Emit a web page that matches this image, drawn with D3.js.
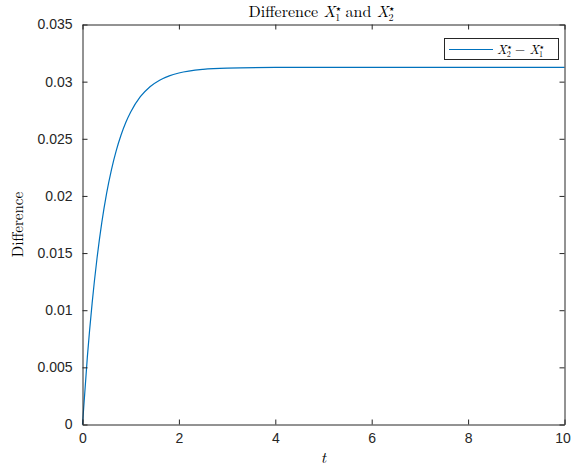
<!DOCTYPE html>
<html><head><meta charset="utf-8">
<script src="https://cdn.jsdelivr.net/npm/d3@7"></script>
<style>
body{margin:0;background:#fff;}
svg{display:block;}
.tick text{font-family:"Liberation Sans",Arial,sans-serif;font-size:14px;fill:#262626;}
</style></head>
<body>
<svg id="c" width="571" height="468"></svg>
<script>
// data
const tValues = [0, 0.1, 0.2, 0.3, 0.4, 0.5, 0.6, 0.7, 0.8, 0.9, 1.0, 1.2, 1.4, 1.6, 1.8, 2.0, 2.5, 3.0, 4.0, 5.0, 6.0, 7.0, 8.0, 9.0, 10.0];
const diffValues = [0, 0.00587, 0.01062, 0.0145, 0.01766, 0.02022, 0.02228, 0.02396, 0.02533, 0.02644, 0.02734, 0.02868, 0.02956, 0.03013, 0.03051, 0.03076, 0.03108, 0.03119, 0.03124, 0.03125, 0.03125, 0.03125, 0.03125, 0.03125, 0.03125];
const xTicks = [0, 2, 4, 6, 8, 10];
const yTicks = [0, 0.005, 0.01, 0.015, 0.02, 0.025, 0.03, 0.035];
const yTickLabels = ["0", "0.005", "0.01", "0.015", "0.02", "0.025", "0.03", "0.035"];

const svg = d3.select("#c");
const L = 82.5, R = 564.5, T = 24.5, B = 424.5;
const x = d3.scaleLinear().domain([0, 10]).range([L, R]);
const y = d3.scaleLinear().domain([0, 0.035]).range([B, T]);
const axCol = "#262626";

// line
const data = tValues.map((t, i) => ({t, v: diffValues[i]}));
svg.append("path").datum(data)
  .attr("fill", "none").attr("stroke", "#0072BD").attr("stroke-width", 1.2)
  .attr("d", d3.line().x(d => x(d.t)).y(d => y(d.v)).curve(d3.curveMonotoneX));

function styleAxis(g){
  g.select(".domain").attr("stroke", axCol).attr("stroke-width", 1);
  g.selectAll(".tick line").attr("stroke", axCol).attr("stroke-width", 1);
}
// bottom
const gx = svg.append("g").attr("transform", `translate(0,${B})`)
  .call(d3.axisBottom(x).tickValues(xTicks).tickSizeInner(-5).tickSizeOuter(0).tickPadding(9).tickFormat(d3.format("d")))
  .call(styleAxis);
gx.selectAll(".tick text").filter(d => d === 10).attr("dx", -2);
// top
svg.append("g").attr("transform", `translate(0,${T})`)
  .call(d3.axisTop(x).tickValues(xTicks).tickSizeInner(-5).tickSizeOuter(0).tickFormat(""))
  .call(styleAxis);
// left
svg.append("g").attr("transform", `translate(${L},0)`)
  .call(d3.axisLeft(y).tickValues(yTicks).tickSizeInner(-5).tickSizeOuter(0).tickPadding(10)
    .tickFormat((d, i) => yTickLabels[i]))
  .call(styleAxis);
// right
svg.append("g").attr("transform", `translate(${R},0)`)
  .call(d3.axisRight(y).tickValues(yTicks).tickSizeInner(-5).tickSizeOuter(0).tickFormat(""))
  .call(styleAxis);
svg.selectAll(".tick text").attr("fill", axCol);

const serif = '"Latin Modern Roman","CMU Serif","Liberation Serif","DejaVu Serif",serif';
const starFont = '"DejaVu Sans",sans-serif';

function addScript(txt, base, sub, sz, starSz, up, down, back){
  txt.append("tspan").attr("font-style", "italic").text(base);
  txt.append("tspan").attr("font-size", starSz).attr("font-family", starFont).attr("dx", 0.5).attr("dy", -up).text("\u2605");
  txt.append("tspan").attr("font-size", sz).attr("dx", -back).attr("dy", up + down).text(sub);
}

// title
const title = svg.append("text").attr("x", (L + R) / 2 - 2).attr("y", 17)
  .attr("text-anchor", "middle").attr("font-family", serif).attr("font-size", 16).attr("fill", "#000");
title.append("tspan").text("Difference ");
addScript(title, "X", "1", 10, 6, 6, 4, 6);
title.append("tspan").attr("dy", -4).text(" and ");
addScript(title, "X", "2", 10, 6, 6, 4, 6);

// axis labels
svg.append("text").attr("x", (L + R) / 2).attr("y", 463).attr("text-anchor", "middle")
  .attr("font-family", serif).attr("font-style", "italic").attr("font-size", 16).text("t");
svg.append("text").attr("transform", `translate(23,${(T + B) / 2}) rotate(-90)`)
  .attr("text-anchor", "middle").attr("font-family", serif).attr("font-size", 15).text("Difference");

// legend
const lg = svg.append("g");
lg.append("rect").attr("x", 444.5).attr("y", 38.5).attr("width", 114).attr("height", 21)
  .attr("fill", "#fff").attr("stroke", axCol).attr("stroke-width", 1);
lg.append("line").attr("x1", 449).attr("x2", 493).attr("y1", 49.5).attr("y2", 49.5)
  .attr("stroke", "#0072BD").attr("stroke-width", 1.2);
const lt = lg.append("text").attr("x", 497).attr("y", 53.5).attr("font-family", serif).attr("font-size", 13);
addScript(lt, "X", "2", 8, 5, 5, 3, 5);
lt.append("tspan").attr("dy", -3).text(" \u2212 ");
addScript(lt, "X", "1", 8, 5, 5, 3, 5);
</script>
</body></html>
